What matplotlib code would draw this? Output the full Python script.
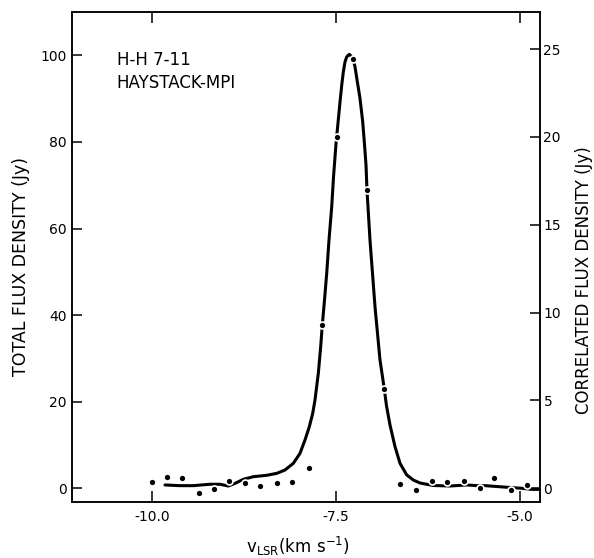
import matplotlib
matplotlib.use("Agg")
import matplotlib.pyplot as plt
from matplotlib.ticker import FixedLocator, FixedFormatter

plt.rcParams['font.family'] = ['DejaVu Sans']
plt.rcParams['axes.unicode_minus'] = False

# Observed total flux density (dots), left axis, Jy
vel_pts = [-10.00, -9.80, -9.59, -9.37, -9.16, -8.95, -8.74, -8.53, -8.31, -8.10,
           -7.87, -7.69, -7.49, -7.27, -7.08, -6.85, -6.63, -6.41, -6.20, -5.99,
           -5.77, -5.55, -5.35, -5.13, -4.91]
total_flux = [1.52, 2.54, 2.31, -1.15, -0.23, 1.76, 1.15, 0.53, 1.29, 1.52,
              4.76, 37.7, 81.1, 99.1, 68.9, 22.9, 1.06, -0.39, 1.62, 1.45,
              1.76, 0.00, 2.31, -0.39, 0.69]

# Correlated flux density (curve), right axis, Jy
vel_curve = [-9.826, -9.622, -9.442, -9.215, -9.079, -8.966, -8.875, -8.762, -8.626,
             -8.444, -8.308, -8.196, -8.083, -7.992, -7.924, -7.865, -7.819, -7.788,
             -7.743, -7.711, -7.689, -7.659, -7.629, -7.598, -7.561, -7.537, -7.503,
             -7.471, -7.448, -7.425, -7.403, -7.380, -7.357, -7.322, -7.299, -7.268,
             -7.245, -7.213, -7.177, -7.140, -7.115, -7.095, -7.082, -7.041, -6.973,
             -6.905, -6.846, -6.817, -6.769, -6.701, -6.633, -6.542, -6.452, -6.361,
             -6.181, -5.954, -5.727, -5.591, -5.478, -5.183, -4.980, -4.844, -4.741]
corr_flux = [0.19, 0.15, 0.15, 0.23, 0.23, 0.13, 0.28, 0.51, 0.66,
             0.74, 0.85, 1.04, 1.42, 1.99, 2.75, 3.51, 4.27, 5.03,
             6.55, 8.06, 9.29, 10.72, 12.24, 14.13, 16.03, 17.70, 19.60,
             21.00, 22.00, 22.95, 23.71, 24.28, 24.56, 24.70, 24.60, 24.38,
             24.00, 23.14, 22.20, 20.87, 19.54, 18.40, 16.98, 14.13, 10.34,
             7.30, 5.63, 4.70, 3.60, 2.37, 1.42, 0.76, 0.47, 0.30,
             0.16, 0.13, 0.19, 0.15, 0.15, 0.06, 0.00, -0.06, -0.06]

x_ticks = [-10.0, -7.5, -5.0]
x_tick_labels = ['-10.0', '-7.5', '-5.0']
left_ticks = [0, 20, 40, 60, 80, 100]
left_tick_labels = ['0', '20', '40', '60', '80', '100']
right_ticks = [0, 5, 10, 15, 20, 25]
right_tick_labels = ['0', '5', '10', '15', '20', '25']

fig = plt.figure(figsize=(5.94, 5.58), dpi=100)
ax = fig.add_axes([0.1207, 0.1009, 0.7884, 0.8776])
ax2 = ax.twinx()

ax2.plot(vel_curve, corr_flux, color='black', lw=2.2, solid_capstyle='round',
         solid_joinstyle='round')
ax.plot(vel_pts, total_flux, linestyle='none', marker='o', color='black',
        markersize=5.0, markeredgewidth=1.2, markeredgecolor='white')

ax.set_zorder(ax2.get_zorder() + 1)
ax.patch.set_visible(False)

ax.set_xlim(-11.094, -4.731)
ax.set_ylim(-3.09, 110.0)
ax2.set_ylim(-0.763, 27.11)

for a in (ax, ax2):
    for s in a.spines.values():
        s.set_linewidth(1.1)
        s.set_color('black')

ax.xaxis.set_major_locator(FixedLocator(x_ticks))
ax.xaxis.set_major_formatter(FixedFormatter(x_tick_labels))
ax.yaxis.set_major_locator(FixedLocator(left_ticks))
ax.yaxis.set_major_formatter(FixedFormatter(left_tick_labels))
ax2.yaxis.set_major_locator(FixedLocator(right_ticks))
ax2.yaxis.set_major_formatter(FixedFormatter(right_tick_labels))

ax.tick_params(axis='x', which='both', direction='in', length=8, width=1.1,
               top=True, bottom=True, labelsize=10, pad=6)
ax.tick_params(axis='y', which='both', direction='in', length=7, width=1.1,
               left=True, right=False, labelsize=10, pad=3.5)
ax2.tick_params(axis='y', which='both', direction='in', length=7.5, width=1.1,
                right=True, labelsize=10, pad=2.5)

fig.text(21 / 594, 1 - 266.5 / 558, 'TOTAL FLUX DENSITY (Jy)', rotation=90,
         ha='center', va='center', fontsize=12.5)
fig.text(584 / 594, 1 - 280 / 558, 'CORRELATED FLUX DENSITY (Jy)', rotation=90,
         ha='center', va='center', fontsize=12)
fig.text(298 / 594, 1 - 546 / 558, r'$\mathregular{v_{LSR}(km\ s^{-1})}$',
         ha='center', va='center', fontsize=12)

ax.text(0.0961, 0.902, 'H-H 7-11', transform=ax.transAxes, ha='left',
        va='center', fontsize=12)
ax.text(0.0961, 0.855, 'HAYSTACK-MPI', transform=ax.transAxes, ha='left',
        va='center', fontsize=12)

fig.savefig('out.png', dpi=100)
